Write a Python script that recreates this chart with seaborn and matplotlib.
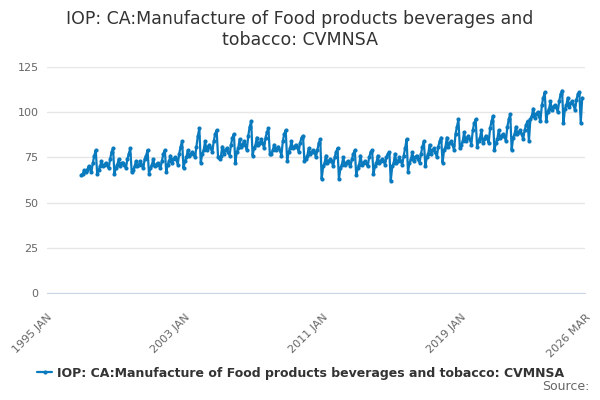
import matplotlib
matplotlib.use("Agg")
import matplotlib.pyplot as plt
import seaborn as sns
import pandas as pd

# monthly index values, Jan..Dec per year
values_1997_2001 = [
    65, 66, 68, 67, 68, 70, 69, 67, 72, 76, 79, 66,
    68, 70, 73, 70, 71, 72, 71, 69, 74, 78, 80, 66,
    69, 71, 74, 70, 72, 72, 71, 69, 74, 77, 80, 67,
    68, 70, 73, 70, 71, 73, 71, 69, 74, 76, 79, 66,
    69, 71, 74, 70, 71, 72, 71, 69, 73, 77, 79, 67,
]
values_2002_2006 = [
    71, 73, 76, 72, 74, 75, 74, 71, 77, 81, 84, 69,
    73, 75, 79, 76, 77, 78, 77, 75, 81, 87, 91, 72,
    77, 79, 84, 79, 81, 82, 80, 78, 84, 88, 90, 75,
    74, 76, 81, 77, 79, 80, 78, 76, 82, 86, 88, 72,
    78, 80, 85, 81, 82, 84, 82, 79, 87, 92, 95, 76,
]
values_2007_2011 = [
    80, 82, 86, 82, 83, 85, 83, 80, 86, 89, 91, 77,
    77, 79, 82, 79, 80, 81, 79, 76, 84, 88, 90, 73,
    78, 80, 84, 80, 81, 82, 81, 78, 83, 86, 87, 73,
    74, 76, 80, 77, 78, 79, 78, 75, 79, 83, 85, 63,
    70, 72, 76, 72, 73, 74, 73, 70, 75, 78, 80, 63,
]
values_2012_2016 = [
    69, 71, 75, 71, 72, 73, 72, 70, 74, 77, 79, 65,
    69, 71, 76, 71, 72, 73, 72, 70, 75, 78, 79, 66,
    70, 72, 76, 72, 73, 74, 73, 71, 75, 77, 78, 62,
    70, 72, 77, 72, 73, 75, 73, 71, 76, 80, 85, 67,
    72, 74, 78, 73, 75, 76, 74, 72, 77, 81, 84, 70,
]
values_2017_2021 = [
    75, 77, 82, 77, 79, 80, 78, 75, 81, 84, 86, 72,
    79, 81, 86, 81, 83, 84, 82, 79, 88, 92, 96, 80,
    82, 84, 89, 84, 86, 87, 85, 82, 90, 94, 96, 81,
    84, 86, 90, 83, 85, 87, 86, 83, 91, 95, 98, 79,
    83, 85, 90, 86, 87, 88, 87, 84, 92, 96, 99, 79,
]
values_2022_2026 = [
    86, 88, 92, 88, 89, 90, 88, 85, 90, 93, 95, 84,
    96, 98, 102, 97, 99, 100, 98, 95, 104, 108, 111, 95,
    100, 102, 106, 101, 103, 104, 103, 100, 106, 110, 112, 94,
    102, 104, 108, 103, 105, 106, 104, 101, 107, 110, 111, 94,
    108,
]

values = (values_1997_2001 + values_2002_2006 + values_2007_2011
          + values_2012_2016 + values_2017_2021 + values_2022_2026)
dates = pd.date_range("1997-01-01", periods=len(values), freq="MS")

series_name = "IOP: CA:Manufacture of Food products beverages and tobacco: CVMNSA"
title = "IOP: CA:Manufacture of Food products beverages and\ntobacco: CVMNSA"
y_ticks = [0, 25, 50, 75, 100, 125]
label_dates = ["1995-01-01", "2003-01-01", "2011-01-01", "2019-01-01", "2026-03-01"]
label_texts = ["1995 JAN", "2003 JAN", "2011 JAN", "2019 JAN", "2026 MAR"]

df = pd.DataFrame({"date": dates, "value": values})

sns.set_style("white")
plt.rcParams["font.family"] = ["DejaVu Sans"]

line_color = "#0a7abf"
fig = plt.figure(figsize=(6, 4), dpi=100)
ax = fig.add_axes([0.078, 0.2675, 0.897, 0.565])

sns.lineplot(data=df, x="date", y="value", ax=ax, color=line_color,
             linewidth=1.6, marker="o", markersize=3, markeredgewidth=0,
             label=series_name)

ax.set_ylim(0, 125)
ax.set_yticks(y_ticks)
ax.set_xlim(pd.Timestamp("1995-01-01"), pd.Timestamp("2026-03-01"))
ax.grid(True, axis="y", color="#e6e6e6", linewidth=1)
ax.set_axisbelow(True)
ax.set_xlabel("")
ax.set_ylabel("")

for side in ["top", "right", "left"]:
    ax.spines[side].set_visible(False)
ax.spines["bottom"].set_color("#ccd6eb")

# tick marks every two years, labels on selected ones
minor = pd.date_range("1995-01-01", "2025-01-01", freq="24MS")
ax.set_xticks(list(minor) + [pd.Timestamp("2026-03-01")], minor=True)
ax.set_xticks(pd.to_datetime(label_dates))
ax.set_xticklabels(label_texts, rotation=45, ha="right", rotation_mode="anchor")
ax.tick_params(axis="x", which="both", length=10, color="#ccd6eb",
               labelsize=8, labelcolor="#666666", direction="out")
ax.tick_params(axis="y", length=0, labelsize=8, labelcolor="#666666", pad=6)

fig.suptitle(title, x=0.5, y=0.975, fontsize=12.5, color="#333333", va="top")

leg = ax.legend(loc="center", bbox_to_anchor=(0.472, -0.354), frameon=False,
                prop={"weight": "bold", "size": 9}, handlelength=1.2,
                handletextpad=0.4)
for t in leg.get_texts():
    t.set_color("#333333")

fig.text(0.982, 0.018, "Source:", ha="right", va="bottom", fontsize=9,
         color="#666666")

fig.savefig("out.png", dpi=100)
